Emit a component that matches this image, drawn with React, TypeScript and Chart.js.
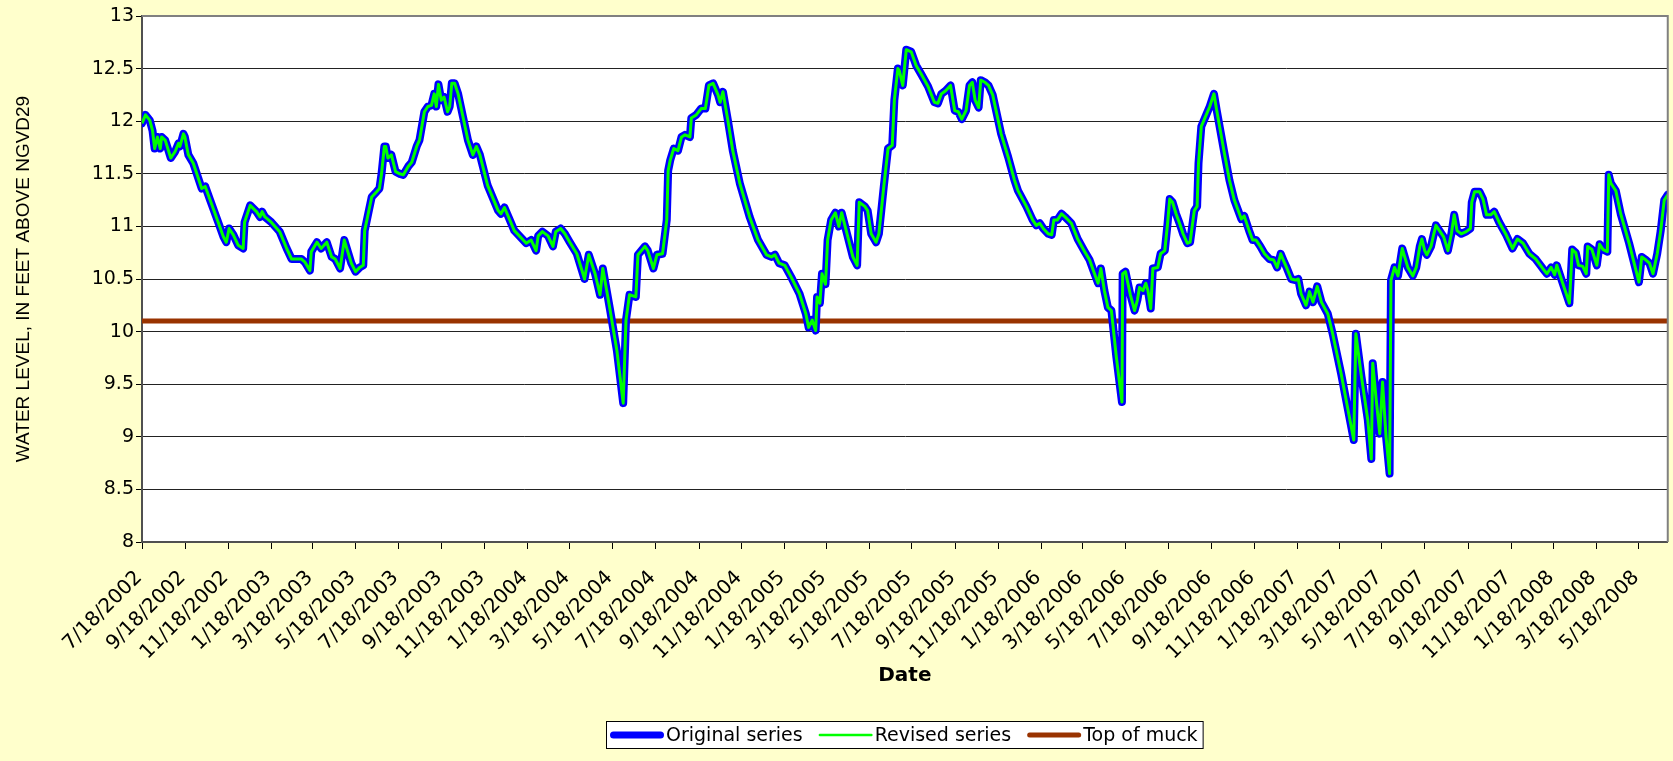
import React, { useEffect, useRef } from 'react';
import { Chart, registerables } from 'chart.js';

Chart.register(...registerables);

// ---- Data ----
const tickLabels = [
  '7/18/2002', '9/18/2002', '11/18/2002', '1/18/2003', '3/18/2003', '5/18/2003',
  '7/18/2003', '9/18/2003', '11/18/2003', '1/18/2004', '3/18/2004', '5/18/2004',
  '7/18/2004', '9/18/2004', '11/18/2004', '1/18/2005', '3/18/2005', '5/18/2005',
  '7/18/2005', '9/18/2005', '11/18/2005', '1/18/2006', '3/18/2006', '5/18/2006',
  '7/18/2006', '9/18/2006', '11/18/2006', '1/18/2007', '3/18/2007', '5/18/2007',
  '7/18/2007', '9/18/2007', '11/18/2007', '1/18/2008', '3/18/2008', '5/18/2008',
];

// days elapsed since 7/18/2002
const elapsedDays = [
  0, 5, 11, 15, 18, 22, 26, 28, 33, 41, 47, 52, 54, 59, 61, 66, 73, 85, 90, 97,
  109, 116, 120, 124, 130, 137, 144, 146, 154, 163, 168, 171, 175, 184, 196, 206, 213, 220, 227, 232,
  239, 241, 249, 255, 263, 270, 275, 282, 288, 298, 304, 310, 315, 317, 322, 327, 334, 338, 341, 345,
  347, 350, 355, 361, 367, 372, 379, 384, 391, 395, 402, 407, 412, 416, 419, 422, 426, 430, 435, 438,
  441, 445, 450, 457, 464, 471, 476, 481, 492, 507, 511, 516, 530, 547, 554, 561, 564, 570, 578, 585,
  589, 596, 602, 609, 619, 630, 636, 645, 652, 656, 666, 676, 685, 689, 694, 703, 706, 711, 716, 720,
  728, 733, 741, 747, 749, 752, 757, 763, 768, 773, 780, 782, 789, 796, 802, 807, 813, 820, 823, 827,
  834, 841, 851, 865, 877, 889, 896, 901, 907, 915, 924, 936, 945, 949, 954, 959, 961, 965, 968, 973,
  976, 981, 987, 992, 996, 1012, 1018, 1021, 1029, 1033, 1038, 1045, 1049, 1056, 1062, 1068, 1071, 1076, 1078, 1083,
  1088, 1095, 1102, 1109, 1119, 1128, 1133, 1138, 1144, 1151, 1157, 1162, 1167, 1173, 1178, 1182, 1186, 1191, 1194, 1200,
  1205, 1211, 1223, 1233, 1242, 1247, 1259, 1268, 1273, 1278, 1283, 1290, 1295, 1298, 1303, 1309, 1314, 1323, 1332, 1342,
  1349, 1356, 1361, 1365, 1370, 1375, 1380, 1387, 1395, 1396, 1400, 1407, 1413, 1417, 1420, 1425, 1429, 1432, 1436, 1439,
  1446, 1450, 1456, 1460, 1463, 1467, 1472, 1477, 1482, 1488, 1492, 1498, 1502, 1504, 1508, 1515, 1520, 1526, 1530, 1541,
  1548, 1555, 1565, 1569, 1576, 1581, 1586, 1592, 1598, 1605, 1611, 1616, 1621, 1626, 1630, 1636, 1642, 1646, 1650, 1657,
  1662, 1667, 1673, 1679, 1688, 1695, 1707, 1717, 1725, 1728, 1736, 1745, 1750, 1752, 1757, 1762, 1766, 1771, 1776, 1778,
  1783, 1788, 1794, 1802, 1809, 1814, 1819, 1822, 1826, 1829, 1835, 1839, 1842, 1847, 1853, 1859, 1864, 1868, 1872, 1878,
  1885, 1891, 1893, 1897, 1904, 1909, 1914, 1920, 1925, 1932, 1942, 1951, 1958, 1966, 1975, 1984, 1994, 2000, 2006, 2011,
  2014, 2022, 2032, 2036, 2041, 2045, 2051, 2056, 2058, 2064, 2071, 2075, 2080, 2086, 2088, 2091, 2098, 2105, 2117, 2131,
  2135, 2141, 2146, 2151, 2157, 2162, 2167, 2172,
];

const originalLevels = [
  11.98, 12.06, 12.01, 11.91, 11.74, 11.85, 11.74, 11.85, 11.82, 11.65, 11.71, 11.79, 11.76, 11.88, 11.85, 11.68, 11.60, 11.36, 11.38, 11.25,
  11.03, 10.90, 10.85, 10.98, 10.92, 10.82, 10.79, 11.04, 11.20, 11.14, 11.09, 11.14, 11.09, 11.04, 10.95, 10.79, 10.69, 10.69, 10.69, 10.66,
  10.58, 10.76, 10.85, 10.79, 10.85, 10.71, 10.69, 10.60, 10.87, 10.65, 10.57, 10.61, 10.63, 10.96, 11.12, 11.28, 11.33, 11.36, 11.50, 11.76,
  11.76, 11.65, 11.68, 11.52, 11.50, 11.49, 11.57, 11.61, 11.76, 11.82, 12.09, 12.14, 12.15, 12.26, 12.14, 12.35, 12.20, 12.23, 12.09, 12.14,
  12.36, 12.36, 12.26, 12.04, 11.82, 11.68, 11.76, 11.68, 11.39, 11.15, 11.12, 11.18, 10.96, 10.84, 10.87, 10.77, 10.91, 10.95, 10.91, 10.81,
  10.95, 10.98, 10.93, 10.85, 10.74, 10.50, 10.73, 10.55, 10.35, 10.60, 10.22, 9.82, 9.32, 10.11, 10.35, 10.33, 10.73, 10.77, 10.81, 10.77,
  10.60, 10.73, 10.74, 11.06, 11.53, 11.63, 11.74, 11.72, 11.85, 11.87, 11.85, 12.03, 12.06, 12.12, 12.12, 12.34, 12.36, 12.25, 12.18, 12.28,
  12.01, 11.72, 11.41, 11.09, 10.87, 10.73, 10.71, 10.73, 10.65, 10.63, 10.52, 10.36, 10.17, 10.04, 10.11, 10.01, 10.33, 10.27, 10.55, 10.45,
  10.87, 11.06, 11.13, 11.00, 11.13, 10.71, 10.63, 11.23, 11.19, 11.15, 10.93, 10.85, 10.93, 11.38, 11.74, 11.77, 12.20, 12.50, 12.48, 12.34,
  12.68, 12.66, 12.53, 12.45, 12.33, 12.18, 12.17, 12.26, 12.29, 12.34, 12.10, 12.09, 12.02, 12.10, 12.34, 12.37, 12.20, 12.13, 12.39, 12.37,
  12.34, 12.25, 11.88, 11.66, 11.44, 11.34, 11.19, 11.06, 11.01, 11.03, 10.98, 10.93, 10.92, 11.06, 11.06, 11.12, 11.09, 11.03, 10.88, 10.76,
  10.68, 10.55, 10.46, 10.60, 10.39, 10.23, 10.20, 9.76, 9.33, 10.55, 10.57, 10.35, 10.20, 10.30, 10.42, 10.39, 10.46, 10.39, 10.22, 10.60,
  10.61, 10.74, 10.77, 11.03, 11.26, 11.23, 11.12, 11.03, 10.93, 10.84, 10.85, 11.15, 11.19, 11.60, 11.95, 12.06, 12.14, 12.26, 12.10, 11.69,
  11.44, 11.25, 11.07, 11.10, 10.96, 10.87, 10.87, 10.81, 10.74, 10.69, 10.68, 10.61, 10.74, 10.66, 10.60, 10.50, 10.49, 10.50, 10.36, 10.25,
  10.38, 10.28, 10.43, 10.28, 10.17, 9.98, 9.60, 9.25, 8.97, 9.98, 9.57, 9.16, 8.79, 9.70, 9.35, 9.03, 9.52, 9.00, 8.65, 10.49,
  10.61, 10.53, 10.79, 10.61, 10.53, 10.61, 10.81, 10.88, 10.77, 10.73, 10.81, 10.93, 11.01, 10.96, 10.90, 10.77, 10.93, 11.11, 10.96, 10.93,
  10.95, 10.98, 11.23, 11.33, 11.33, 11.26, 11.11, 11.11, 11.14, 11.04, 10.92, 10.79, 10.88, 10.84, 10.74, 10.69, 10.60, 10.55, 10.61, 10.54,
  10.63, 10.47, 10.27, 10.78, 10.75, 10.63, 10.62, 10.55, 10.81, 10.78, 10.63, 10.83, 10.78, 10.76, 11.49, 11.41, 11.34, 11.12, 10.84, 10.47,
  10.71, 10.68, 10.65, 10.55, 10.74, 10.96, 11.25, 11.30,
];

// The revised series lies exactly on the original one in the picture
const revisedLevels = [...originalLevels];

const muckDays = [0, 2172];
const muckLevels = [10.1, 10.1];

const seriesNames = ['Original series', 'Revised series', 'Top of muck'];

// ---- helpers ----
const START = Date.UTC(2002, 6, 18);
const dayOf = (label: string) => {
  const [m, d, y] = label.split('/').map(Number);
  return Math.round((Date.UTC(y, m - 1, d) - START) / 86400000);
};
const toPoints = (xs: number[], ys: number[]) => xs.map((x, i) => ({ x, y: ys[i] }));

const framePlugin = {
  id: 'plotFrame',
  beforeDraw(chart: any) {
    const { ctx, chartArea: a } = chart;
    ctx.save();
    ctx.fillStyle = '#FFFFCC';
    ctx.fillRect(0, 0, chart.width, chart.height);
    ctx.fillStyle = '#FFFFFF';
    ctx.fillRect(a.left, a.top, a.right - a.left, a.bottom - a.top);
    ctx.restore();
  },
  afterDatasetsDraw(chart: any) {
    const { ctx, chartArea: a } = chart;
    ctx.save();
    ctx.strokeStyle = '#808080';
    ctx.lineWidth = 2;
    ctx.beginPath();
    ctx.moveTo(a.left, a.top);
    ctx.lineTo(a.right, a.top);
    ctx.lineTo(a.right, a.bottom);
    ctx.stroke();
    ctx.restore();
  },
};

const legendPlugin = {
  id: 'boxedLegend',
  afterDraw(chart: any) {
    const { ctx, chartArea } = chart;
    ctx.save();
    ctx.font = '19px "DejaVu Sans"';
    const items = chart.data.datasets.map((ds: any) => ({
      text: ds.label,
      color: ds.borderColor,
      lw: ds.legendLineWidth ?? ds.borderWidth,
      w: ctx.measureText(ds.label).width,
    }));
    const sampleLen = 54, textGap = 2, itemGap = 16, padL = 4, padR = 6;
    const total =
      padL + padR +
      items.reduce((s: number, it: any) => s + sampleLen + textGap + it.w, 0) +
      itemGap * (items.length - 1);
    const cx = (chartArea.left + chartArea.right) / 2;
    const left = Math.round(cx - total / 2);
    const h = 28;
    const top = chart.height - 40;
    ctx.fillStyle = '#FFFFFF';
    ctx.fillRect(left, top, total, h);
    ctx.strokeStyle = '#000000';
    ctx.lineWidth = 1;
    ctx.strokeRect(left + 0.5, top + 0.5, total - 1, h - 1);
    const cy = top + h / 2;
    let x = left + padL;
    ctx.textBaseline = 'middle';
    ctx.textAlign = 'left';
    items.forEach((it: any) => {
      ctx.beginPath();
      ctx.strokeStyle = it.color;
      ctx.lineWidth = it.lw;
      ctx.lineCap = 'round';
      ctx.moveTo(x + it.lw / 2, cy);
      ctx.lineTo(x + sampleLen - it.lw / 2, cy);
      ctx.stroke();
      x += sampleLen + textGap;
      ctx.fillStyle = '#000000';
      ctx.fillText(it.text, x, cy + 1);
      x += it.w + itemGap;
    });
    ctx.restore();
  },
};

export default function App() {
  const ref = useRef<HTMLCanvasElement>(null);

  useEffect(() => {
    const canvas = ref.current;
    if (!canvas) return;
    const tickDays = tickLabels.map(dayOf);
    const lastDay = elapsedDays[elapsedDays.length - 1];

    const chart = new Chart(canvas, {
      type: 'line',
      data: {
        datasets: [
          {
            label: seriesNames[0],
            data: toPoints(elapsedDays, originalLevels),
            borderColor: '#0000FF',
            borderWidth: 8,
            legendLineWidth: 7,
            pointRadius: 0,
            tension: 0,
            fill: false,
            borderJoinStyle: 'round',
            borderCapStyle: 'round',
            order: 1,
          } as any,
          {
            label: seriesNames[1],
            data: toPoints(elapsedDays, revisedLevels),
            borderColor: '#00FF00',
            borderWidth: 3,
            legendLineWidth: 2.5,
            pointRadius: 0,
            tension: 0,
            fill: false,
            borderJoinStyle: 'round',
            order: 0,
          } as any,
          {
            label: seriesNames[2],
            data: toPoints(muckDays, muckLevels),
            borderColor: '#993300',
            borderWidth: 5,
            legendLineWidth: 5,
            pointRadius: 0,
            tension: 0,
            fill: false,
            order: 2,
          } as any,
        ],
      },
      options: {
        responsive: false,
        animation: false,
        devicePixelRatio: 1,
        layout: { padding: { left: 0, right: 4, top: 16, bottom: 0 } },
        plugins: {
          legend: { display: false },
          tooltip: { enabled: false },
        },
        scales: {
          x: {
            type: 'linear',
            min: 0,
            max: lastDay,
            afterBuildTicks: (s: any) => {
              s.ticks = tickDays.map((v) => ({ value: v }));
            },
            afterFit: (s: any) => {
              s.height = 219;
            },
            ticks: {
              autoSkip: false,
              minRotation: 45,
              maxRotation: 45,
              padding: 17,
              labelOffset: -3,
              color: '#000000',
              font: { family: '"DejaVu Sans"', size: 20 },
              callback: (_v: any, i: number) => tickLabels[i],
            },
            grid: {
              drawOnChartArea: false,
              drawTicks: true,
              tickLength: 7,
              tickColor: '#000000',
              tickWidth: 1,
            },
            border: { display: true, color: '#505050', width: 2 },
            title: {
              display: true,
              text: 'Date',
              color: '#000000',
              font: { family: '"DejaVu Sans"', size: 20, weight: 'bold' },
              padding: { top: 0, bottom: 73 },
            },
          },
          y: {
            type: 'linear',
            min: 8,
            max: 13,
            afterFit: (s: any) => {
              s.width = 142;
            },
            ticks: {
              stepSize: 0.5,
              padding: 2,
              color: '#000000',
              font: { family: '"DejaVu Sans"', size: 19 },
              callback: (v: any) => String(v),
            },
            grid: {
              color: '#222222',
              lineWidth: 1,
              drawTicks: true,
              tickLength: 6,
              tickColor: '#000000',
            },
            border: { display: true, color: '#505050', width: 2 },
            title: {
              display: true,
              text: 'WATER LEVEL, IN FEET ABOVE NGVD29',
              color: '#000000',
              font: { family: '"Liberation Sans", Arial', size: 19 },
              padding: { top: 12, bottom: 0 },
            },
          },
        },
      } as any,
      plugins: [framePlugin, legendPlugin],
    });
    return () => chart.destroy();
  }, []);

  return (
    <div
      style={{
        position: 'fixed',
        left: 0,
        top: 0,
        width: 1673,
        height: 761,
        background: '#FFFFCC',
      }}
    >
      <canvas
        ref={ref}
        width={1673}
        height={761}
        style={{ display: 'block', width: 1673, height: 761 }}
      />
    </div>
  );
}
